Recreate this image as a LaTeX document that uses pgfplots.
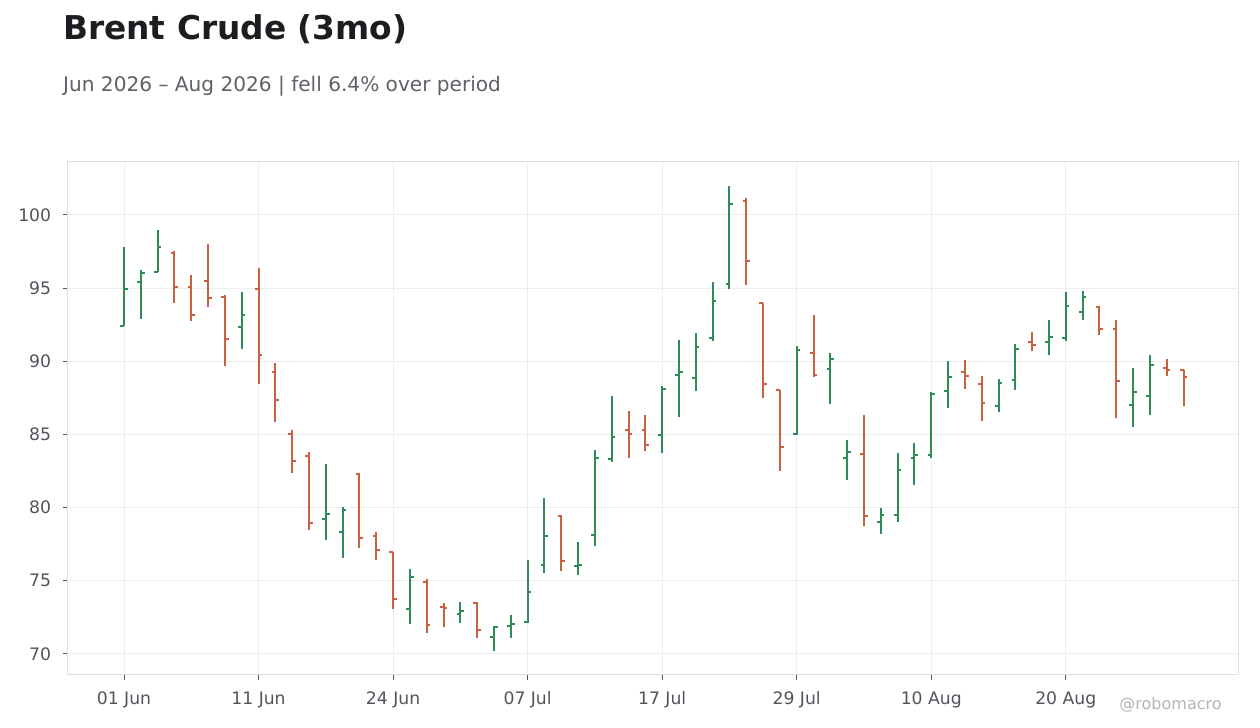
\documentclass[border=0pt]{standalone}
\usepackage{fontspec}
\setmainfont{DejaVu Sans}
\usepackage{pgfplots}
\usepackage{pgfplotstable}
\pgfplotsset{compat=1.18}

\definecolor{upc}{HTML}{2E8B57}
\definecolor{dnc}{HTML}{C9603F}
\definecolor{titlec}{HTML}{1C1C21}
\definecolor{subc}{HTML}{5F6068}
\definecolor{labc}{HTML}{52535B}
\definecolor{gridc}{HTML}{EDEDED}
\definecolor{framec}{HTML}{DFDFE3}
\definecolor{markc}{HTML}{B4B4B8}

% trading day index, open, high, low, close
\pgfplotstableread{
i  O      H      L      C
0  92.40  97.80  92.40  94.95
1  95.45  96.23  92.89  96.00
2  96.07  98.95  96.07  97.84
7  92.32  94.75  90.82  93.14
12 79.25  82.98  77.81  79.59
13 78.36  80.02  76.58  79.86
17 73.10  75.81  72.07  75.28
20 72.76  73.55  72.14  72.96
22 71.14  71.94  70.18  71.83
23 71.89  72.63  71.07  72.03
24 72.17  76.39  72.12  74.22
25 76.07  80.64  75.53  78.06
27 76.00  77.63  75.39  76.07
28 78.13  83.93  77.37  83.38
29 83.31  87.63  83.13  84.84
32 84.93  88.32  83.76  88.14
33 89.03  91.47  86.16  89.24
34 88.89  91.95  87.94  91.01
35 91.56  95.44  91.36  94.09
36 95.28  102.00 94.91  100.73
40 85.00  91.04  84.98  90.74
42 89.44  90.58  87.05  90.13
43 83.38  84.65  81.88  83.79
45 79.02  80.00  78.20  79.50
46 79.50  83.74  79.02  82.56
47 83.38  84.42  81.54  83.58
48 83.58  87.89  83.38  87.73
49 87.98  90.00  86.78  88.96
52 86.92  88.78  86.51  88.55
53 88.75  91.16  88.07  90.86
55 91.35  92.85  90.46  91.64
56 91.58  94.75  91.37  93.80
57 93.34  94.82  92.80  94.41
60 87.02  89.51  85.52  87.90
61 87.63  90.40  86.34  89.74
}\up

\pgfplotstableread{
i  O      H      L      C
3  97.43  97.52  93.98  95.05
4  95.11  95.89  92.73  93.14
5  95.52  98.02  93.68  94.30
6  94.36  94.52  89.66  91.50
8  94.91  96.36  88.43  90.41
9  89.24  89.88  85.83  87.38
10 85.03  85.28  82.39  83.19
11 83.55  83.78  78.50  78.95
14 82.28  82.37  77.27  77.95
15 78.09  78.31  76.45  77.13
16 76.99  76.99  73.10  73.78
18 74.94  75.10  71.46  72.00
19 73.20  73.49  71.87  73.12
21 73.47  73.58  71.07  71.62
26 79.43  79.47  75.66  76.32
30 85.32  86.60  83.38  85.05
31 85.32  86.32  83.88  84.27
37 100.94 101.19 95.19  96.83
38 93.98  93.98  87.46  88.42
39 88.03  88.03  82.53  84.11
41 90.54  93.18  88.92  89.03
44 83.65  86.33  78.75  79.43
50 89.27  90.07  88.14  89.02
51 88.48  88.98  85.90  87.12
54 91.35  92.03  90.67  91.08
58 93.68  93.80  91.83  92.19
59 92.19  92.85  86.13  88.63
62 89.51  90.19  88.99  89.40
63 89.40  89.40  86.95  88.90
}\down

\pgfplotsset{
  hl/.style={draw=none, error bars/.cd, y dir=plus, y explicit, error mark=none,
    error bar style={draw=#1, line width=1pt}},
  op/.style={draw=none, error bars/.cd, x dir=minus, x fixed=0.22, error mark=none,
    error bar style={draw=#1, line width=1pt}},
  cl/.style={draw=none, error bars/.cd, x dir=plus, x fixed=0.22, error mark=none,
    error bar style={draw=#1, line width=1pt}},
}

\begin{document}
\begin{tikzpicture}
\path[use as bounding box] (0,0) rectangle (630pt,364pt);

\node[anchor=base west, inner sep=0, text=titlec, font=\fontsize{16.4}{19}\selectfont\bfseries]
  at (31.4pt,344pt) {Brent Crude (3mo)};
\node[anchor=base west, inner sep=0, text=subc, font=\fontsize{10.05}{12}\selectfont]
  at (31.4pt,318pt) {Jun 2026 – Aug 2026 | fell 6.4\% over period};
\node[anchor=base east, inner sep=0, text=markc, font=\fontsize{8}{10}\selectfont]
  at (611pt,9.4pt) {@robomacro};

\begin{axis}[
  at={(34pt,26.5pt)}, anchor=south west,
  width=585.5pt, height=256.5pt, scale only axis,
  xmin=-3.33, xmax=66.3,
  ymin=68.56, ymax=103.62,
  xtick={0,8,16,24,32,40,48,56},
  xticklabels={01 Jun,11 Jun,24 Jun,07 Jul,17 Jul,29 Jul,10 Aug,20 Aug},
  ytick={70,75,80,85,90,95,100},
  xtick pos=bottom, ytick pos=left,
  tick align=outside, major tick length=2.6pt,
  tick style={draw=labc, line width=0.5pt},
  axis line style={draw=framec, line width=0.5pt},
  grid=major, major grid style={draw=gridc, line width=0.5pt},
  tick label style={font=\fontsize{8.6}{10}\selectfont, text=labc},
  /pgf/number format/assume math mode=true,
  xticklabel style={yshift=-2.3pt},
  yticklabel style={xshift=-2.3pt},
  clip=false,
]
\addplot[hl=upc] table[x=i, y=L, y error expr=\thisrow{H}-\thisrow{L}] {\up};
\addplot[op=upc] table[x=i, y=O] {\up};
\addplot[cl=upc] table[x=i, y=C] {\up};
\addplot[hl=dnc] table[x=i, y=L, y error expr=\thisrow{H}-\thisrow{L}] {\down};
\addplot[op=dnc] table[x=i, y=O] {\down};
\addplot[cl=dnc] table[x=i, y=C] {\down};
\end{axis}
\end{tikzpicture}
\end{document}
